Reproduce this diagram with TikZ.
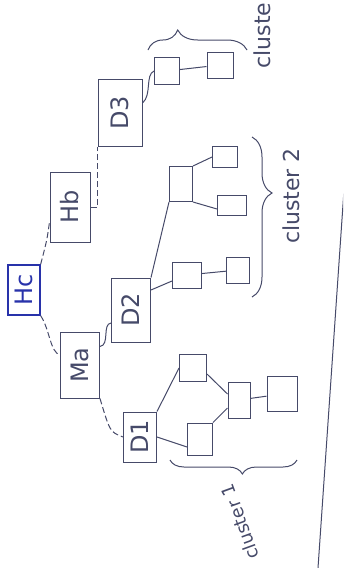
\documentclass[tikz,border=0pt]{standalone}
\usepackage{fontspec}
\setmainfont{DejaVu Sans}
\usetikzlibrary{decorations.pathreplacing}
\definecolor{pencil}{RGB}{70,74,105}
\definecolor{inkblue}{RGB}{40,50,170}

\begin{document}
\begin{tikzpicture}[x=1pt,y=1pt]
        \tikzset{box/.style = {draw=pencil, line width=1pt, inner sep=0pt,
                text=pencil, font=\fontsize{24}{24}\selectfont},
            leaf/.style = {draw=pencil, line width=1pt, inner sep=0pt},
            link/.style = {draw=pencil, line width=1pt},
            dashlink/.style = {link, dash pattern=on 6pt off 3pt},
            clusterbrace/.style 2 args = {link, decorate,
                decoration={brace, amplitude=#1, aspect=#2}},
            clustertext/.style = {text=pencil, font=\fontsize{22}{22}\selectfont}}
        \useasboundingbox (0,0) rectangle (343,-568);
        \clip (0,0) rectangle (343,-568);
        % head and the two sub heads
        \node[box, draw=inkblue, text=inkblue, line width=1.3pt,
            minimum width=32pt, minimum height=50pt] (hc) at (24,-290) {\rotatebox{90}{Hc}};
        \node[box, minimum width=40pt, minimum height=70pt] (hb) at (70,-207) {\rotatebox{90}{Hb}};
        \node[box, minimum width=39pt, minimum height=66pt] (ma) at (80,-365) {\rotatebox{90}{Ma}};
        \node[box, minimum width=44pt, minimum height=67pt] (d3) at (120,-113) {\rotatebox{90}{D3}};
        \node[box, minimum width=39pt, minimum height=64pt] (d2) at (131,-310) {\rotatebox{90}{D2}};
        \node[box, minimum width=33pt, minimum height=50pt] (d1) at (140,-437) {\rotatebox{90}{D1}};
        % cluster 1
        \node[leaf, minimum width=27pt, minimum height=27pt] (a1) at (193,-368) {};
        \node[leaf, minimum width=25pt, minimum height=32pt] (b1) at (200,-439) {};
        \node[leaf, minimum width=22pt, minimum height=36pt] (c1) at (239,-400) {};
        \node[leaf, minimum width=30pt, minimum height=35pt] (e1) at (282,-394) {};
        % cluster 2
        \node[leaf, minimum width=23pt, minimum height=35pt] (g2) at (181,-184) {};
        \node[leaf, minimum width=25pt, minimum height=21pt] (h2) at (225,-157) {};
        \node[leaf, minimum width=29pt, minimum height=20pt] (i2) at (232,-205) {};
        \node[leaf, minimum width=29pt, minimum height=26pt] (e2) at (187,-275) {};
        \node[leaf, minimum width=23pt, minimum height=26pt] (f2) at (238,-270) {};
        % cluster 3
        \node[leaf, minimum width=25pt, minimum height=27pt] (j3) at (167,-71) {};
        \node[leaf, minimum width=26pt, minimum height=26pt] (k3) at (220,-65) {};
        % labels
        \node[clustertext, rotate=110, font=\fontsize{18}{18}\selectfont] (lab1) at (240,-522) {cluster 1};
        \node[clustertext, rotate=90] (lab2) at (291,-196) {cluster 2};
        \node[clustertext, rotate=90, anchor=west] (lab3) at (262,-72) {cluster 3};

        \draw[dashlink] (hc.north east) .. controls (47,-240) .. ([yshift=-15pt]hb.west);
        \draw[dashlink] (hc.south east) .. controls (50,-330) and (50,-352) .. ([yshift=10pt]ma.west);
        \draw[dashlink] (hb.east) -| (d3.south west);
        \draw[link] ([yshift=-15pt]ma.north east) .. controls (110,-345) and (102,-324) .. ([yshift=-13pt]d2.west);
        \draw[dashlink] (ma.south east) .. controls (110,-432) .. (d1.west);
        \draw[link] ([yshift=10pt]d3.east) .. controls (152,-95) and (145,-75) .. (j3.west);
        \draw[link] (j3) -- (k3);
        \draw[link] (d2.north east) -- (g2.south west);
        \draw[link] ([yshift=20pt]d2.east) -- ([yshift=-6pt]e2.west);
        \draw[link] (e2) -- (f2);
        \draw[link] (g2.north east) -- (h2.west);
        \draw[link] (g2.south east) -- ([yshift=-4pt]i2.west);
        \draw[link] (d1.north east) -- (a1.west);
        \draw[link] (d1.east) -- ([yshift=-8pt]b1.west);
        \draw[link] ([yshift=-6pt]a1.east) -- ([yshift=6pt]c1.west);
        \draw[link] (b1.north east) -- ([yshift=-8pt]c1.west);
        \draw[link] (c1) -- (e1);
        % braces and margin
        \draw[clusterbrace={14pt}{0.43}] (297,-460) -- (170,-460);
        \draw[clusterbrace={20pt}{0.35}] (252,-137) -- (252,-297);
        \draw[clusterbrace={20pt}{0.3}] (148,-50) -- (247,-50);
        \draw[link] (344,-190) -- (318,-568);
    \end{tikzpicture}
\end{document}
